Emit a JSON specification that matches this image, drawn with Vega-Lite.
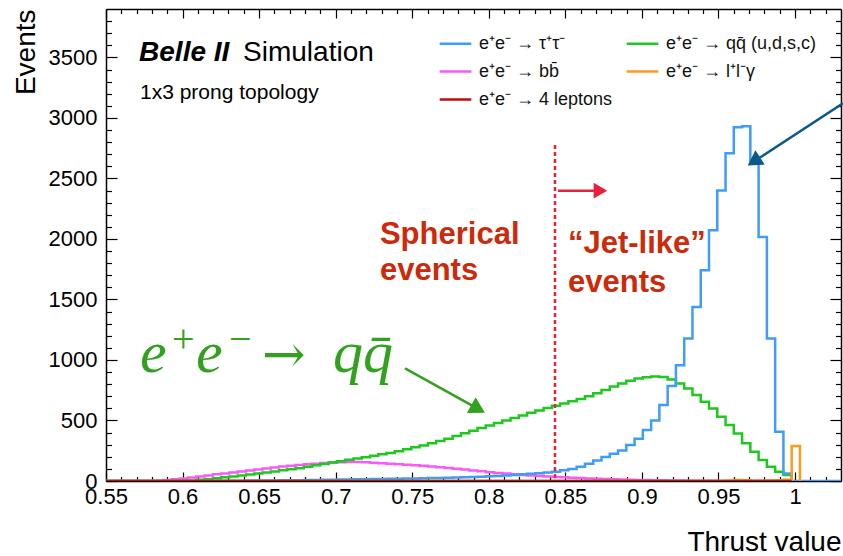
{
"$schema": "https://vega.github.io/schema/vega-lite/v6.json",
"width": 735, "height": 472,
"autosize": {"type": "none"},
"padding": {"left": 106, "top": 9, "right": 2, "bottom": 75},
"background": "white",
"config": {"view": {"stroke": null}, "font": "Liberation Sans", "axis": {"grid": false}},
"resolve": {"axis": {"x": "independent", "y": "independent"}},
"layer": [
{
"data": {"values": [
{"x":0.5496,"tau":0,"qq":0,"bb":0,"llg":0,"fourl":0},
{"x":0.5550,"tau":0,"qq":0,"bb":0,"llg":0,"fourl":0},
{"x":0.5604,"tau":0,"qq":0,"bb":0,"llg":0,"fourl":0},
{"x":0.5658,"tau":0,"qq":0,"bb":0,"llg":0,"fourl":0},
{"x":0.5712,"tau":0,"qq":0,"bb":0,"llg":0,"fourl":0},
{"x":0.5766,"tau":0,"qq":0,"bb":0,"llg":0,"fourl":0},
{"x":0.5820,"tau":0,"qq":0,"bb":3,"llg":0,"fourl":0},
{"x":0.5874,"tau":0,"qq":0,"bb":8,"llg":0,"fourl":0},
{"x":0.5928,"tau":0,"qq":0,"bb":14,"llg":0,"fourl":0},
{"x":0.5982,"tau":0,"qq":2,"bb":20,"llg":0,"fourl":0},
{"x":0.6036,"tau":0,"qq":5,"bb":28,"llg":0,"fourl":0},
{"x":0.6090,"tau":1,"qq":10,"bb":37,"llg":0,"fourl":0},
{"x":0.6144,"tau":1,"qq":15,"bb":46,"llg":0,"fourl":0},
{"x":0.6198,"tau":2,"qq":22,"bb":55,"llg":0,"fourl":0},
{"x":0.6252,"tau":2,"qq":30,"bb":63,"llg":0,"fourl":0},
{"x":0.6306,"tau":3,"qq":38,"bb":71,"llg":0,"fourl":0},
{"x":0.6360,"tau":3,"qq":46,"bb":79,"llg":0,"fourl":0},
{"x":0.6414,"tau":4,"qq":54,"bb":87,"llg":0,"fourl":0},
{"x":0.6468,"tau":4,"qq":62,"bb":95,"llg":0,"fourl":0},
{"x":0.6522,"tau":5,"qq":70,"bb":103,"llg":0,"fourl":0},
{"x":0.6576,"tau":5,"qq":79,"bb":111,"llg":0,"fourl":0},
{"x":0.6630,"tau":6,"qq":88,"bb":119,"llg":0,"fourl":0},
{"x":0.6684,"tau":7,"qq":97,"bb":126,"llg":0,"fourl":0},
{"x":0.6738,"tau":7,"qq":106,"bb":132,"llg":0,"fourl":0},
{"x":0.6792,"tau":8,"qq":118,"bb":138,"llg":0,"fourl":0},
{"x":0.6846,"tau":9,"qq":130,"bb":143,"llg":0,"fourl":0},
{"x":0.6900,"tau":10,"qq":141,"bb":148,"llg":0,"fourl":0},
{"x":0.6954,"tau":11,"qq":152,"bb":152,"llg":0,"fourl":0},
{"x":0.7008,"tau":12,"qq":164,"bb":155,"llg":0,"fourl":0},
{"x":0.7062,"tau":13,"qq":175,"bb":157,"llg":0,"fourl":0},
{"x":0.7116,"tau":14,"qq":186,"bb":156,"llg":0,"fourl":0},
{"x":0.7170,"tau":15,"qq":197,"bb":154,"llg":0,"fourl":0},
{"x":0.7224,"tau":16,"qq":208,"bb":151,"llg":0,"fourl":0},
{"x":0.7278,"tau":17,"qq":220,"bb":147,"llg":0,"fourl":0},
{"x":0.7332,"tau":18,"qq":232,"bb":143,"llg":0,"fourl":0},
{"x":0.7386,"tau":19,"qq":246,"bb":139,"llg":0,"fourl":0},
{"x":0.7440,"tau":20,"qq":262,"bb":135,"llg":0,"fourl":0},
{"x":0.7494,"tau":21,"qq":278,"bb":130,"llg":0,"fourl":0},
{"x":0.7548,"tau":22,"qq":294,"bb":125,"llg":0,"fourl":0},
{"x":0.7602,"tau":24,"qq":311,"bb":120,"llg":0,"fourl":0},
{"x":0.7656,"tau":25,"qq":330,"bb":114,"llg":0,"fourl":0},
{"x":0.7710,"tau":27,"qq":350,"bb":108,"llg":0,"fourl":0},
{"x":0.7764,"tau":29,"qq":372,"bb":101,"llg":0,"fourl":0},
{"x":0.7818,"tau":31,"qq":394,"bb":94,"llg":0,"fourl":0},
{"x":0.7872,"tau":33,"qq":416,"bb":87,"llg":0,"fourl":0},
{"x":0.7926,"tau":36,"qq":437,"bb":80,"llg":0,"fourl":0},
{"x":0.7980,"tau":39,"qq":458,"bb":73,"llg":0,"fourl":0},
{"x":0.8034,"tau":42,"qq":480,"bb":67,"llg":0,"fourl":0},
{"x":0.8088,"tau":46,"qq":500,"bb":61,"llg":0,"fourl":0},
{"x":0.8142,"tau":50,"qq":520,"bb":55,"llg":0,"fourl":0},
{"x":0.8196,"tau":55,"qq":542,"bb":50,"llg":0,"fourl":0},
{"x":0.8250,"tau":60,"qq":563,"bb":45,"llg":0,"fourl":0},
{"x":0.8304,"tau":65,"qq":583,"bb":41,"llg":0,"fourl":0},
{"x":0.8358,"tau":71,"qq":603,"bb":37,"llg":0,"fourl":0},
{"x":0.8412,"tau":77,"qq":622,"bb":33,"llg":0,"fourl":0},
{"x":0.8466,"tau":88,"qq":640,"bb":30,"llg":0,"fourl":0},
{"x":0.8520,"tau":100,"qq":658,"bb":27,"llg":0,"fourl":0},
{"x":0.8574,"tau":118,"qq":678,"bb":24,"llg":0,"fourl":0},
{"x":0.8628,"tau":142,"qq":700,"bb":21,"llg":0,"fourl":0},
{"x":0.8682,"tau":170,"qq":725,"bb":18,"llg":0,"fourl":0},
{"x":0.8736,"tau":198,"qq":752,"bb":16,"llg":0,"fourl":0},
{"x":0.8790,"tau":226,"qq":780,"bb":14,"llg":0,"fourl":0},
{"x":0.8844,"tau":252,"qq":805,"bb":12,"llg":0,"fourl":0},
{"x":0.8898,"tau":297,"qq":828,"bb":10,"llg":0,"fourl":0},
{"x":0.8952,"tau":350,"qq":846,"bb":9,"llg":0,"fourl":0},
{"x":0.9006,"tau":421,"qq":858,"bb":8,"llg":0,"fourl":0},
{"x":0.9060,"tau":500,"qq":864,"bb":7,"llg":0,"fourl":0},
{"x":0.9114,"tau":627,"qq":860,"bb":6,"llg":0,"fourl":0},
{"x":0.9168,"tau":784,"qq":838,"bb":5,"llg":0,"fourl":0},
{"x":0.9222,"tau":957,"qq":806,"bb":4,"llg":0,"fourl":0},
{"x":0.9276,"tau":1177,"qq":765,"bb":3,"llg":0,"fourl":0},
{"x":0.9330,"tau":1438,"qq":710,"bb":3,"llg":0,"fourl":0},
{"x":0.9384,"tau":1741,"qq":654,"bb":2,"llg":0,"fourl":0},
{"x":0.9438,"tau":2071,"qq":600,"bb":2,"llg":0,"fourl":0},
{"x":0.9492,"tau":2401,"qq":531,"bb":1,"llg":0,"fourl":0},
{"x":0.9546,"tau":2709,"qq":462,"bb":1,"llg":3,"fourl":0},
{"x":0.9600,"tau":2922,"qq":393,"bb":1,"llg":8,"fourl":0},
{"x":0.9654,"tau":2932,"qq":311,"bb":1,"llg":6,"fourl":0},
{"x":0.9708,"tau":2621,"qq":242,"bb":0,"llg":3,"fourl":0},
{"x":0.9762,"tau":2016,"qq":173,"bb":0,"llg":2,"fourl":0},
{"x":0.9816,"tau":1177,"qq":118,"bb":0,"llg":4,"fourl":0},
{"x":0.9870,"tau":407,"qq":77,"bb":0,"llg":6,"fourl":0},
{"x":0.9924,"tau":63,"qq":50,"bb":0,"llg":10,"fourl":0},
{"x":0.9978,"tau":0,"qq":0,"bb":0,"llg":289,"fourl":0},
{"x":1.0032,"tau":0,"qq":null,"bb":null,"llg":0,"fourl":null},
{"x":1.0086,"tau":0,"qq":null,"bb":null,"llg":null,"fourl":null},
{"x":1.0140,"tau":0,"qq":null,"bb":null,"llg":null,"fourl":null},
{"x":1.0194,"tau":0,"qq":null,"bb":null,"llg":null,"fourl":null},
{"x":1.0248,"tau":0,"qq":null,"bb":null,"llg":null,"fourl":null},
{"x":1.0302,"tau":0,"qq":null,"bb":null,"llg":null,"fourl":null}
]},
"transform": [{"fold": ["bb", "qq", "tau", "llg", "fourl"], "as": ["series", "y"]}],
"mark": {"type": "line", "interpolate": "step-after", "strokeWidth": 2.5, "clip": true},
"encoding": {
"x": {"field": "x", "type": "quantitative", "scale": {"domain": [0.55, 1.03], "nice": false, "zero": false},
 "axis": {"orient": "bottom",
  "values": [0.55,0.56,0.57,0.58,0.59,0.6,0.61,0.62,0.63,0.64,0.65,0.66,0.67,0.68,0.69,0.7,0.71,0.72,0.73,0.74,0.75,0.76,0.77,0.78,0.79,0.8,0.81,0.82,0.83,0.84,0.85,0.86,0.87,0.88,0.89,0.9,0.91,0.92,0.93,0.94,0.95,0.96,0.97,0.98,0.99,1,1.01,1.02],
  "format": ".2~f",
  "labelExpr": "abs(datum.value*20-round(datum.value*20))<0.001 ? datum.label : ''",
  "tickSize": {"condition": {"test": "abs(datum.value*20-round(datum.value*20))<0.001", "value": -9}, "value": -4.5},
  "tickColor": "black", "tickWidth": 1.2, "domainColor": "black", "domainWidth": 1.5,
  "labelFont": "Liberation Sans", "labelFontSize": 22, "labelColor": "black", "labelPadding": 14,
  "labelFlush": false, "labelOverlap": false, "labelBound": false,
  "title": "Thrust value", "titleAnchor": "end", "titleFont": "Liberation Sans", "titleFontSize": 28, "titleFontWeight": "normal", "titleColor": "black", "titlePadding": 17}},
"y": {"field": "y", "type": "quantitative", "scale": {"domain": [0, 3900], "nice": false},
 "axis": {"orient": "left",
  "values": [0,100,200,300,400,500,600,700,800,900,1000,1100,1200,1300,1400,1500,1600,1700,1800,1900,2000,2100,2200,2300,2400,2500,2600,2700,2800,2900,3000,3100,3200,3300,3400,3500,3600,3700,3800],
  "format": "d",
  "labelExpr": "datum.value % 500 == 0 ? datum.label : ''",
  "tickSize": {"condition": {"test": "datum.value % 500 == 0", "value": -11}, "value": -5.5},
  "tickColor": "black", "tickWidth": 1.2, "domainColor": "black", "domainWidth": 1.5,
  "labelFont": "Liberation Sans", "labelFontSize": 22, "labelColor": "black", "labelPadding": 20,
  "labelOverlap": false, "labelBound": false,
  "title": "Events", "titleAnchor": "end", "titleFont": "Liberation Sans", "titleFontSize": 28, "titleFontWeight": "normal", "titleColor": "black", "titlePadding": 8}},
"color": {"field": "series", "type": "nominal",
 "scale": {"domain": ["tau", "bb", "fourl", "qq", "llg"], "range": ["#3f9cf7", "#f75bf7", "#b2120f", "#1ec81e", "#ff9a1a"]},
 "legend": {"orient": "none", "legendX": 332, "legendY": 17, "columns": 2, "title": null,
  "symbolType": "stroke", "symbolSize": 1000, "symbolStrokeWidth": 2.5,
  "labelFont": "Liberation Sans", "labelFontSize": 18, "labelColor": "#111", "labelOffset": 6, "labelLimit": 400,
  "columnPadding": 8, "rowPadding": 1, "padding": 0,
  "labelExpr": "datum.value == 'tau' ? 'e⁺e⁻ → τ⁺τ⁻' : datum.value == 'qq' ? 'e⁺e⁻ → qq̄ (u,d,s,c)' : datum.value == 'bb' ? 'e⁺e⁻ → bb̄' : datum.value == 'llg' ? 'e⁺e⁻ → l⁺l⁻γ' : 'e⁺e⁻ → 4 leptons'"}}
}
},
{
"data": {"values": [{"x": 0.8432, "y": 2776, "y0": 0}]},
"mark": {"type": "rule", "color": "#e8213a", "strokeWidth": 2.5, "strokeDash": [4, 3]},
"encoding": {
"x": {"field": "x", "type": "quantitative",
 "axis": {"orient": "top", "labels": false, "title": null,
  "values": [0.55,0.56,0.57,0.58,0.59,0.6,0.61,0.62,0.63,0.64,0.65,0.66,0.67,0.68,0.69,0.7,0.71,0.72,0.73,0.74,0.75,0.76,0.77,0.78,0.79,0.8,0.81,0.82,0.83,0.84,0.85,0.86,0.87,0.88,0.89,0.9,0.91,0.92,0.93,0.94,0.95,0.96,0.97,0.98,0.99,1,1.01,1.02],
  "tickSize": {"condition": {"test": "abs(datum.value*20-round(datum.value*20))<0.001", "value": -9}, "value": -4.5},
  "tickColor": "black", "tickWidth": 1.2, "domainColor": "black", "domainWidth": 1.5}},
"y": {"field": "y", "type": "quantitative",
 "axis": {"orient": "right", "labels": false, "title": null,
  "values": [0,100,200,300,400,500,600,700,800,900,1000,1100,1200,1300,1400,1500,1600,1700,1800,1900,2000,2100,2200,2300,2400,2500,2600,2700,2800,2900,3000,3100,3200,3300,3400,3500,3600,3700,3800],
  "tickSize": {"condition": {"test": "datum.value % 500 == 0", "value": -11}, "value": -5.5},
  "tickColor": "black", "tickWidth": 1.2, "domainColor": "black", "domainWidth": 1.5}},
"y2": {"field": "y0"}
}
},
{
"data": {"values": [{"x": 0.8452, "x2": 0.8735, "y": 2399}]},
"mark": {"type": "rule", "color": "#e8213a", "strokeWidth": 2.5},
"encoding": {"x": {"field": "x", "type": "quantitative", "axis": null}, "x2": {"field": "x2"}, "y": {"field": "y", "type": "quantitative", "axis": null}}
},
{
"data": {"values": [{"x": 0.8729, "y": 2399}]},
"mark": {"type": "point", "shape": "triangle-right", "filled": true, "opacity": 1, "color": "#e8213a", "size": 246},
"encoding": {"x": {"field": "x", "type": "quantitative", "axis": null}, "y": {"field": "y", "type": "quantitative", "axis": null}}
},
{
"data": {"values": [{"x": 1.0313, "y": 3121, "x2": 0.9731, "y2": 2640}]},
"mark": {"type": "rule", "color": "#0b5a8c", "strokeWidth": 2.5, "clip": false},
"encoding": {"x": {"field": "x", "type": "quantitative", "axis": null}, "y": {"field": "y", "type": "quantitative", "axis": null}, "x2": {"field": "x2"}, "y2": {"field": "y2"}}
},
{
"data": {"values": [{"x": 0.9731, "y": 2640}]},
"mark": {"type": "point", "shape": "triangle-up", "angle": 237, "filled": true, "opacity": 1, "color": "#0b5a8c", "size": 289},
"encoding": {"x": {"field": "x", "type": "quantitative", "axis": null}, "y": {"field": "y", "type": "quantitative", "axis": null}}
},
{
"data": {"values": [{"x": 0.7453, "y": 931, "x2": 0.793, "y2": 596}]},
"mark": {"type": "rule", "color": "#33a11f", "strokeWidth": 2.5},
"encoding": {"x": {"field": "x", "type": "quantitative", "axis": null}, "y": {"field": "y", "type": "quantitative", "axis": null}, "x2": {"field": "x2"}, "y2": {"field": "y2"}}
},
{
"data": {"values": [{"x": 0.793, "y": 596}]},
"mark": {"type": "point", "shape": "triangle-up", "angle": 119, "filled": true, "opacity": 1, "color": "#33a11f", "size": 324},
"encoding": {"x": {"field": "x", "type": "quantitative", "axis": null}, "y": {"field": "y", "type": "quantitative", "axis": null}}
},
{
"data": {"values": [{"x": 0.5716, "y": 3470, "t": "Belle II"}]},
"mark": {"type": "text", "align": "left", "baseline": "alphabetic", "font": "Liberation Sans", "fontSize": 28, "fontWeight": "bold", "fontStyle": "italic", "color": "black"},
"encoding": {"x": {"field": "x", "type": "quantitative", "axis": null}, "y": {"field": "y", "type": "quantitative", "axis": null}, "text": {"field": "t"}}
},
{
"data": {"values": [{"x": 0.6395, "y": 3470, "t": "Simulation"}]},
"mark": {"type": "text", "align": "left", "baseline": "alphabetic", "font": "Liberation Sans", "fontSize": 28, "color": "black"},
"encoding": {"x": {"field": "x", "type": "quantitative", "axis": null}, "y": {"field": "y", "type": "quantitative", "axis": null}, "text": {"field": "t"}}
},
{
"data": {"values": [{"x": 0.5722, "y": 3156, "t": "1x3 prong topology"}]},
"mark": {"type": "text", "align": "left", "baseline": "alphabetic", "font": "Liberation Sans", "fontSize": 21, "color": "black"},
"encoding": {"x": {"field": "x", "type": "quantitative", "axis": null}, "y": {"field": "y", "type": "quantitative", "axis": null}, "text": {"field": "t"}}
},
{
"data": {"values": [
 {"x": 0.7289, "y": 1958, "t": "Spherical"},
 {"x": 0.7289, "y": 1661, "t": "events"},
 {"x": 0.8517, "y": 1884, "t": "“Jet-like”"},
 {"x": 0.8517, "y": 1562, "t": "events"}]},
"mark": {"type": "text", "align": "left", "baseline": "alphabetic", "font": "Liberation Sans", "fontSize": 31, "fontWeight": "bold", "color": "#cc2a0a"},
"encoding": {"x": {"field": "x", "type": "quantitative", "axis": null}, "y": {"field": "y", "type": "quantitative", "axis": null}, "text": {"field": "t"}}
},
{
"data": {"values": [
 {"x": 0.5722, "y": 901, "t": "e"},
 {"x": 0.6088, "y": 901, "t": "e"},
 {"x": 0.6982, "y": 901, "t": "qq̄"}]},
"mark": {"type": "text", "align": "left", "baseline": "alphabetic", "font": "Liberation Serif", "fontSize": 60, "fontStyle": "italic", "color": "#33a11f"},
"encoding": {"x": {"field": "x", "type": "quantitative", "axis": null}, "y": {"field": "y", "type": "quantitative", "axis": null}, "text": {"field": "t"}}
},
{
"data": {"values": [{"x": 0.6519, "y": 901, "t": "→"}]},
"mark": {"type": "text", "align": "left", "baseline": "alphabetic", "font": "DejaVu Serif", "fontSize": 52, "color": "#33a11f"},
"encoding": {"x": {"field": "x", "type": "quantitative", "axis": null}, "y": {"field": "y", "type": "quantitative", "axis": null}, "text": {"field": "t"}}
},
{
"data": {"values": [
 {"x": 0.5931, "y": 1066, "t": "+"},
 {"x": 0.6303, "y": 1066, "t": "−"}]},
"mark": {"type": "text", "align": "left", "baseline": "alphabetic", "font": "Liberation Serif", "fontSize": 40, "color": "#33a11f"},
"encoding": {"x": {"field": "x", "type": "quantitative", "axis": null}, "y": {"field": "y", "type": "quantitative", "axis": null}, "text": {"field": "t"}}
}
]
}
